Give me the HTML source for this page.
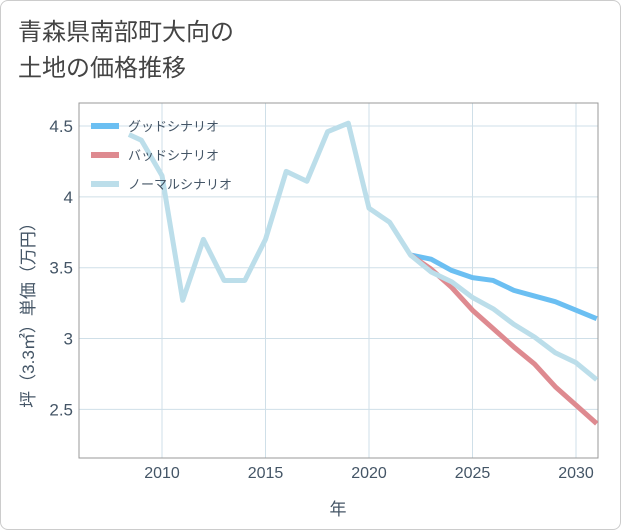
<!DOCTYPE html>
<html><head><meta charset="utf-8"><style>
body{margin:0;background:#fff;}
#wrap{position:relative;width:619px;height:528px;border:1px solid #ccc;border-radius:8px;background:#fff;overflow:hidden;}
.title{position:absolute;left:17px;top:14px;font:24px "Liberation Sans","Noto Sans CJK JP",sans-serif;color:#444;line-height:36px;}
svg text{font-family:"Liberation Sans","Noto Sans CJK JP",sans-serif;}
</style></head><body>
<div id="wrap">
<div class="title">青森県南部町大向の<br>土地の価格推移</div>
<svg id="c" width="619" height="528" style="position:absolute;left:0;top:0"></svg>
</div>
<script>
const years=[2008.4,2009,2010,2011,2012,2013,2014,2015,2016,2017,2018,2019,2020,2021,2022,2023,2024,2025,2026,2027,2028,2029,2030,2031];
const normal=[4.44,4.40,4.15,3.27,3.70,3.41,3.41,3.70,4.18,4.11,4.46,4.52,3.92,3.82,3.59,3.47,3.40,3.29,3.21,3.10,3.01,2.90,2.83,2.71];
const goodYears=[2022,2023,2024,2025,2026,2027,2028,2029,2030,2031];
const good=[3.59,3.56,3.48,3.43,3.41,3.34,3.30,3.26,3.20,3.14];
const bad=[3.59,3.49,3.36,3.20,3.07,2.94,2.82,2.66,2.53,2.40];
const xTicks=[2010,2015,2020,2025,2030];
const yTicks=[2.5,3,3.5,4,4.5];
const yLabels=["2.5","3","3.5","4","4.5"];
const L=78,R=597,T=102,B=457;
const X=v=>161+(v-2010)*20.7;
const Y=v=>125+(4.5-v)*141.7;
const svg=document.getElementById('c');
const NS='http://www.w3.org/2000/svg';
function mk(t,a){const e=document.createElementNS(NS,t);for(const k in a)e.setAttribute(k,a[k]);svg.appendChild(e);return e;}
xTicks.forEach(v=>{
 const g=mk('line',{x1:X(v),x2:X(v),y1:T,y2:B,stroke:'#cfdfe8','stroke-width':1});
 
 
 const t=mk('text',{x:X(v),y:477,'text-anchor':'middle','font-size':16,fill:'#445566'});
 t.textContent=v;
 
 
});
yTicks.forEach((v,i)=>{
 const g=mk('line',{x1:L,x2:R,y1:Y(v),y2:Y(v),stroke:'#cfdfe8','stroke-width':1});
 
 
 const t=mk('text',{x:72,y:Y(v)+6,'text-anchor':'end','font-size':17,fill:'#445566'});
 t.textContent=yLabels[i];
 
 
});
const fr=mk('rect',{x:L,y:T,width:R-L,height:B-T,fill:'none',stroke:'#999','stroke-width':1});


const cp=mk('clipPath',{id:'cl'});
const cr=document.createElementNS(NS,'rect');cr.setAttribute('x',L);cr.setAttribute('y',T);cr.setAttribute('width',R-L);cr.setAttribute('height',B-T);cp.appendChild(cr);
function line(xs,ys,col,name){
 const p=mk('polyline',{points:xs.map((x,i)=>X(x)+','+Y(ys[i])).join(' '),fill:'none',stroke:col,'stroke-width':5,'stroke-linejoin':'round','clip-path':'url(#cl)'});
 
 
}
line(goodYears,good,'#6bbff2','good-scenario-line');
line(goodYears,bad,'#de8a90','bad-scenario-line');
line(years,normal,'#bcdeea','normal-scenario-line');
[['グッドシナリオ','#6bbff2',125],['バッドシナリオ','#de8a90',154],['ノーマルシナリオ','#bcdeea',183]].forEach(e=>{
 const l=mk('line',{x1:90,x2:118,y1:e[2],y2:e[2],stroke:e[1],'stroke-width':6});
 
 
 const t=mk('text',{x:127,y:e[2]+5,'font-size':13,fill:'#445566'});
 t.textContent=e[0];
 
 
});
const xt=mk('text',{x:337,y:514,'text-anchor':'middle','font-size':17,fill:'#445566'});
xt.textContent='年';


const yt=mk('text',{x:0,y:0,'text-anchor':'middle','font-size':17,fill:'#445566',transform:'translate(33,310) rotate(-90)'});
yt.textContent='坪（3.3㎡）単価（万円）';


</script>
</body></html>
